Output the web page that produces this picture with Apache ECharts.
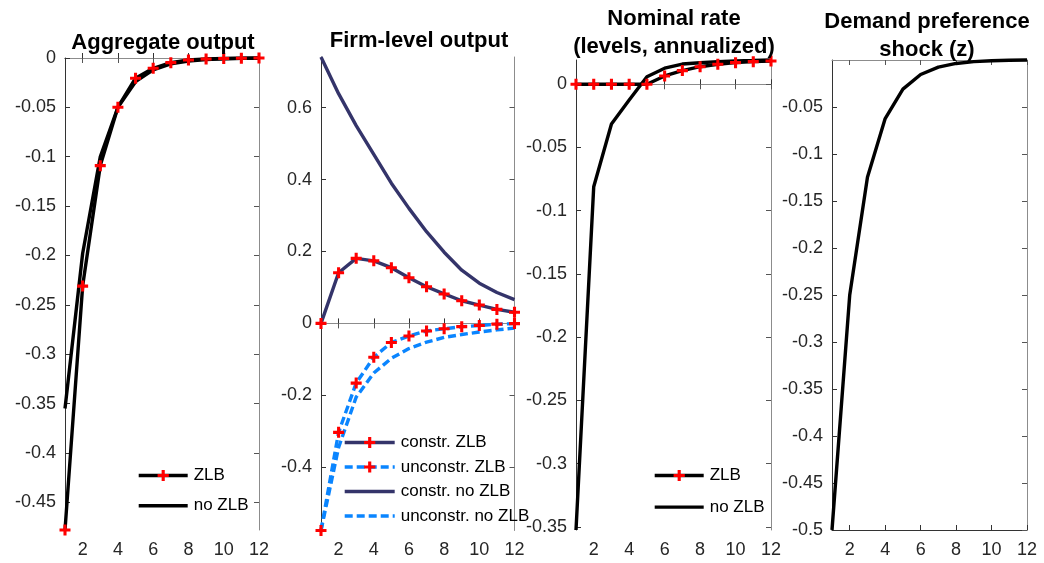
<!DOCTYPE html>
<html>
<head>
<meta charset="utf-8">
<script src="https://cdn.jsdelivr.net/npm/echarts@6/dist/echarts.min.js"></script>
<style>
html, body { margin: 0; padding: 0; background: #fff; }
#chart { width: 1044px; height: 563px; }
</style>
</head>
<body>
<div id="chart"></div>
<script>
// horizon (quarters)
var periods = [1, 2, 3, 4, 5, 6, 7, 8, 9, 10, 11, 12];

// Aggregate output
var aggZlb   = [-0.478, -0.231, -0.109, -0.0498, -0.0205, -0.0104, -0.0047, -0.002, -0.001, -0.0005, -0.0002, 0];
var aggNoZlb = [-0.355, -0.198, -0.1, -0.05, -0.024, -0.012, -0.006, -0.003, -0.0015, -0.0008, -0.0004, -0.0002];

// Firm-level output
var constrZlb     = [0, 0.141, 0.181, 0.174, 0.155, 0.127, 0.102, 0.082, 0.063, 0.051, 0.039, 0.031];
var unconstrZlb   = [-0.576, -0.303, -0.166, -0.094, -0.053, -0.035, -0.021, -0.015, -0.009, -0.006, -0.002, -0.0005];
var constrNoZlb   = [0.741, 0.639, 0.55, 0.47, 0.39, 0.32, 0.255, 0.198, 0.148, 0.112, 0.086, 0.066];
var unconstrNoZlb = [-0.576, -0.345, -0.205, -0.138, -0.097, -0.07, -0.052, -0.039, -0.031, -0.024, -0.018, -0.013];

// Nominal rate (levels, annualized)
var rateZlb   = [0, 0, 0, 0, 0, 0.0066, 0.0108, 0.0139, 0.0158, 0.0171, 0.0179, 0.0184];
var rateNoZlb = [-0.3525, -0.081, -0.0314, -0.0124, 0.006, 0.0127, 0.016, 0.017, 0.0179, 0.0185, 0.0188, 0.0192];

// Demand preference shock (z)
var shockZ = [-0.5, -0.25, -0.125, -0.0625, -0.03125, -0.015625, -0.0078, -0.0039, -0.00195, -0.00098, -0.00049, -0.00024];

// tick labels
var xTicks = [2, 4, 6, 8, 10, 12];
var aggTicks = [0, -0.05, -0.1, -0.15, -0.2, -0.25, -0.3, -0.35, -0.4, -0.45];
var firmTicks = [0.6, 0.4, 0.2, 0, -0.2, -0.4];
var rateTicks = [0, -0.05, -0.1, -0.15, -0.2, -0.25, -0.3, -0.35];
var shockTicks = [-0.05, -0.1, -0.15, -0.2, -0.25, -0.3, -0.35, -0.4, -0.45, -0.5];

var FONT = 'Liberation Sans, Arial, Helvetica, sans-serif';
var PLUS = 'path://M3.6,0H6.4V3.6H10V6.4H6.4V10H3.6V6.4H0V3.6H3.6Z';
var NAVY = '#34346a';
var BLUE = '#0a85ff';

function pairs(ys) {
	return periods.map(function(p, i) { return [p, ys[i]]; });
}

// panel geometry: left, top, width, height, y range, y ticks
var panels = [
	{ left: 65, top: 58, width: 194, height: 472, min: -0.478, max: 0, ticks: aggTicks },
	{ left: 321, top: 57, width: 193.5, height: 473.5, min: -0.576, max: 0.741, ticks: firmTicks },
	{ left: 576, top: 60, width: 195, height: 470, min: -0.3525, max: 0.0192, ticks: rateTicks },
	{ left: 832, top: 60, width: 195, height: 470, min: -0.5, max: -0.00024, ticks: shockTicks }
];

var grids = [], xAxes = [], yAxes = [];
panels.forEach(function(p, i) {
	grids.push({ left: p.left, top: p.top, width: p.width, height: p.height });
	xAxes.push({
		type : 'value', gridIndex : i, position : 'bottom', min : 1, max : 12,
		axisLine : { lineStyle : { color : '#333', width : 1 } },
		axisTick : { inside : true, length : 5, customValues : xTicks, lineStyle : { color : '#333' } },
		axisLabel : { customValues : xTicks, margin : 11, color : '#262626', fontSize : 18, fontFamily : FONT },
		splitLine : { show : false }
	});
	xAxes.push({
		type : 'value', gridIndex : i, position : 'top', min : 1, max : 12,
		axisLine : { lineStyle : { color : '#8c8c8c', width : 1 } },
		axisTick : { inside : true, length : 5, customValues : xTicks, lineStyle : { color : '#555' } },
		axisLabel : { show : false },
		splitLine : { show : false }
	});
	yAxes.push({
		type : 'value', gridIndex : i, position : 'left', min : p.min, max : p.max,
		axisLine : { show : true, lineStyle : { color : '#333', width : 1 } },
		axisTick : { show : true, inside : true, length : 5, customValues : p.ticks, lineStyle : { color : '#333' } },
		axisLabel : { customValues : p.ticks, margin : 9, color : '#262626', fontSize : 18, fontFamily : FONT },
		splitLine : { show : false }
	});
	yAxes.push({
		type : 'value', gridIndex : i, position : 'right', min : p.min, max : p.max,
		axisLine : { show : true, lineStyle : { color : '#8c8c8c', width : 1 } },
		axisTick : { show : true, inside : true, length : 5, customValues : p.ticks, lineStyle : { color : '#555' } },
		axisLabel : { show : false },
		splitLine : { show : false }
	});
});

function line(name, panel, ys, color, marked, dashed, z) {
	return {
		name : name,
		type : 'line',
		xAxisIndex : panel * 2,
		yAxisIndex : panel * 2,
		data : pairs(ys),
		clip : false,
		animation : false,
		z : z,
		symbol : marked ? PLUS : 'none',
		symbolSize : 11,
		showSymbol : marked,
		// unmarked lines get a see-through item colour so the legend draws no dot
		itemStyle : { color : marked ? '#ff0000' : 'rgba(0,0,0,0)' },
		lineStyle : { color : color, width : 3.4, type : dashed ? [8, 4] : 'solid' }
	};
}

var myChart = echarts.init(document.getElementById('chart'), null, { renderer : 'canvas' });
var option = {
	backgroundColor : '#ffffff',
	animation : false,
	title : [
		{ text : 'Aggregate output', left : 163, top : 29, textAlign : 'center' },
		{ text : 'Firm-level output', left : 419, top : 27, textAlign : 'center' },
		{ text : 'Nominal rate\n(levels, annualized)', left : 674, top : 4.5, textAlign : 'center' },
		{ text : 'Demand preference\nshock (z)', left : 927, top : 8, textAlign : 'center' }
	].map(function(t) {
		t.padding = 0;
		t.textStyle = { fontFamily : FONT, fontWeight : 'bold', fontSize : 22, lineHeight : 28, color : '#000' };
		return t;
	}),
	legend : [
		{
			data : [ 'ZLB', 'no ZLB' ], orient : 'vertical', left : 137, top : 467,
			itemWidth : 49, itemHeight : 14, itemGap : 13.3
		},
		{
			data : [ 'constr. ZLB', 'unconstr. ZLB', 'constr. no ZLB', 'unconstr. no ZLB' ],
			orient : 'vertical', left : 343, top : 434, itemWidth : 50, itemHeight : 14, itemGap : 7.5
		},
		{
			data : [ 'ZLB', 'no ZLB' ], orient : 'vertical', left : 653, top : 467,
			itemWidth : 49, itemHeight : 14, itemGap : 14.6
		}
	].map(function(l) {
		l.selectedMode = false;
		l.padding = 0;
		l.lineStyle = { width : 3.4 };
		l.textStyle = { fontFamily : FONT, fontSize : 17, color : '#000', padding : [0, 0, 0, 1] };
		return l;
	}),
	grid : grids,
	xAxis : xAxes,
	yAxis : yAxes,
	series : [
		line('no ZLB', 0, aggNoZlb, '#000', false, false, 2),
		line('ZLB', 0, aggZlb, '#000', true, false, 3),
		line('constr. no ZLB', 1, constrNoZlb, NAVY, false, false, 2),
		line('unconstr. no ZLB', 1, unconstrNoZlb, BLUE, false, true, 2),
		line('constr. ZLB', 1, constrZlb, NAVY, true, false, 3),
		line('unconstr. ZLB', 1, unconstrZlb, BLUE, true, true, 3),
		line('no ZLB', 2, rateNoZlb, '#000', false, false, 2),
		line('ZLB', 2, rateZlb, '#000', true, false, 3),
		line('z', 3, shockZ, '#000', false, false, 2)
	]
};
myChart.setOption(option);
</script>
</body>
</html>
